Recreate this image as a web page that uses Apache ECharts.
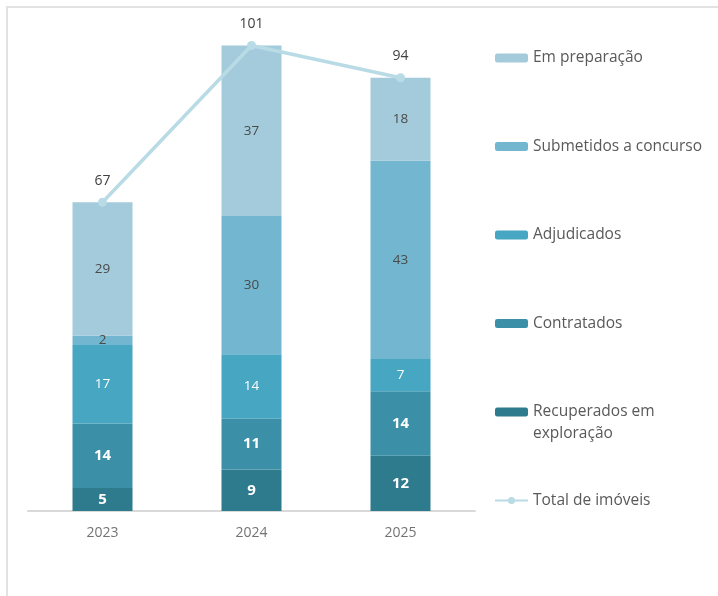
<!DOCTYPE html>
<html>
<head>
<meta charset="utf-8">
<script src="https://cdn.jsdelivr.net/npm/echarts@6/dist/echarts.min.js"></script>
<style>
  html, body { margin: 0; padding: 0; background: #ffffff; }
  #frame { position: absolute; left: 6px; top: 6px; width: 712px; height: 590px;
           border-top: 2px solid #e2e2e2; border-left: 2px solid #e2e2e2; box-sizing: border-box; }
  #chart { position: absolute; left: 0; top: 0; width: 718px; height: 596px; }
</style>
</head>
<body>
<div id="frame"></div>
<div id="chart"></div>
<script>
// Years on the category axis
const years = ['2023', '2024', '2025'];

// Stacked segments, bottom to top
const recuperados = [5, 9, 12];
const contratados = [14, 11, 14];
const adjudicados = [17, 14, 7];
const submetidos = [2, 30, 43];
const emPreparacao = [29, 37, 18];

// Total number of properties per year
const totalImoveis = [67, 101, 94];

const FONT = '"Open Sans", "Noto Sans", sans-serif';

function barSeries(name, data, color, labelColor, bold) {
  return {
    name: name,
    type: 'bar',
    stack: 'total',
    barWidth: 60,
    data: data,
    itemStyle: { color: color },
    label: {
      show: true,
      position: 'inside',
      color: labelColor,
      fontFamily: FONT,
      fontSize: bold ? 15 : 13.5,
      fontWeight: bold ? 'bold' : 'normal'
    },
    emphasis: { disabled: true }
  };
}

const chart = echarts.init(document.getElementById('chart'), null, { renderer: 'canvas' });

chart.setOption({
  animation: false,
  backgroundColor: 'transparent',
  grid: { left: 28, right: 243, top: 4, bottom: 85 },
  xAxis: {
    type: 'category',
    data: years,
    axisLine: { lineStyle: { color: '#d9d9d9', width: 2 } },
    axisTick: { show: false },
    axisLabel: { color: '#737373', fontFamily: FONT, fontSize: 14, margin: 15 }
  },
  yAxis: {
    type: 'value',
    min: 0,
    max: 110,
    show: false,
    splitLine: { show: false }
  },
  legend: {
    orient: 'vertical',
    left: 489,
    top: 20,
    itemWidth: 33,
    itemHeight: 9,
    itemGap: 22.5,
    selectedMode: false,
    textStyle: { color: '#595959', fontFamily: FONT, fontSize: 15.5, lineHeight: 22, padding: [22, 0, 22, 0] },
    data: [
      { name: 'Em preparação' },
      { name: 'Submetidos a concurso' },
      { name: 'Adjudicados' },
      { name: 'Contratados' },
      { name: 'Recuperados em exploração', textStyle: { padding: [0, 0, 0, 0] } },
      { name: 'Total de imóveis' }
    ],
    formatter: function (name) {
      // leading empty line keeps the icon level with the first text line
      return name === 'Recuperados em exploração' ? '\nRecuperados em\nexploração' : name;
    }
  },
  series: [
    barSeries('Recuperados em exploração', recuperados, '#2f7b8e', '#ffffff', true),
    barSeries('Contratados', contratados, '#3b90a8', '#ffffff', true),
    barSeries('Adjudicados', adjudicados, '#47a6c1', '#ffffff', false),
    barSeries('Submetidos a concurso', submetidos, '#72b7cf', '#4a4a4a', false),
    barSeries('Em preparação', emPreparacao, '#a4cbdb', '#4a4a4a', false),
    {
      name: 'Total de imóveis',
      type: 'line',
      data: totalImoveis,
      symbol: 'circle',
      symbolSize: 9,
      lineStyle: { color: '#b9dbe6', width: 3.5 },
      itemStyle: { color: '#b9dbe6' },
      label: {
        show: true,
        position: 'top',
        distance: 10,
        color: '#404040',
        fontFamily: FONT,
        fontSize: 14
      },
      z: 5,
      emphasis: { disabled: true }
    }
  ]
});
</script>
</body>
</html>
